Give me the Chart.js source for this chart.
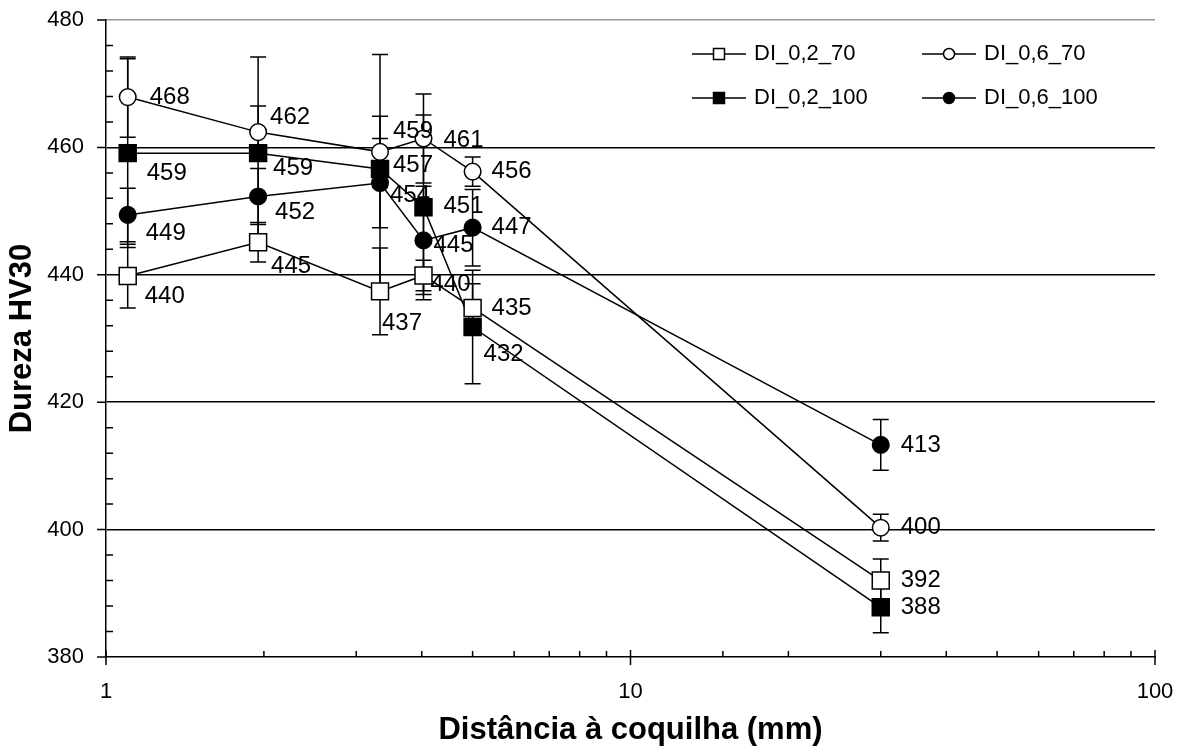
<!DOCTYPE html>
<html>
<head>
<meta charset="utf-8">
<script src="https://cdn.jsdelivr.net/npm/chart.js@4/dist/chart.umd.min.js"></script>
<style>
  body { margin: 0; background: #fff; }
  canvas { display: block; }
</style>
</head>
<body>
<canvas id="hardnessChart" width="1181" height="751"></canvas>
<script>
const FONT = "'Liberation Sans', Arial, sans-serif";

// distance from chill (mm)
const distances = [1.1, 1.95, 3.33, 4.03, 5.0, 30];
const xTickValues = [1, 10, 100];

const seriesNames = ['DI_0,2_70', 'DI_0,6_70', 'DI_0,2_100', 'DI_0,6_100'];

// hardness HV30 per series
const di02_70 = [439.8, 445.1, 437.4, 439.9, 434.8, 392.0];
const di06_70 = [467.9, 462.4, 459.3, 461.4, 456.2, 400.3];
const di02_100 = [459.1, 459.1, 456.6, 450.6, 431.8, 387.8];
const di06_100 = [449.4, 452.3, 454.4, 445.4, 447.4, 413.3];

// error bar half-widths
const err02_70 = [5.0, 3.1, 6.8, 2.4, 3.8, 3.4];
const err06_70 = [6.3, 4.1, 5.6, 7.0, 2.3, 2.1];
const err02_100 = [14.8, 15.1, 18.0, 14.5, 8.9, 4.0];
const err06_100 = [4.2, 4.4, 7.0, 8.5, 6.0, 4.0];

// where each value label sits relative to its point [dx, dy]
const labelPos02_70 = [[17, 20], [13, 24], [2, 32], [7, 9], [19, 0], [20, 0]];
const labelPos06_70 = [[22, 0], [12, -15], [13, -20], [20, 2], [19, 0], [20, 0]];
const labelPos02_100 = [[19, 20], [15, 15], [13, -4], [20, -1], [11, 27], [20, 0]];
const labelPos06_100 = [[18, 18], [17, 16], [10, 12], [10, 5], [19, 0], [20, 0]];

function makeSeries(label, values, errors, labelPos, pointStyle, filled) {
  return {
    label: label,
    data: distances.map((d, i) => ({ x: d, y: values[i] })),
    errors: errors,
    labelPos: labelPos,
    borderColor: '#000',
    borderWidth: 1.5,
    pointStyle: pointStyle,
    pointRadius: pointStyle === 'rect' ? 12 : 8.3,
    pointBorderWidth: 1.5,
    pointBorderColor: '#000',
    pointBackgroundColor: filled ? '#000' : '#fff',
    tension: 0,
    fill: false
  };
}

const datasets = [
  makeSeries(seriesNames[0], di02_70, err02_70, labelPos02_70, 'rect', false),
  makeSeries(seriesNames[1], di06_70, err06_70, labelPos06_70, 'circle', false),
  makeSeries(seriesNames[2], di02_100, err02_100, labelPos02_100, 'rect', true),
  makeSeries(seriesNames[3], di06_100, err06_100, labelPos06_100, 'circle', true)
];

const errorBars = {
  id: 'errorBars',
  beforeDatasetsDraw(chart) {
    const ctx = chart.ctx;
    const yScale = chart.scales.y;
    ctx.save();
    ctx.strokeStyle = '#000';
    ctx.lineWidth = 1.5;
    chart.data.datasets.forEach((ds, di) => {
      chart.getDatasetMeta(di).data.forEach((pt, i) => {
        const v = ds.data[i].y;
        const top = yScale.getPixelForValue(v + ds.errors[i]);
        const bot = yScale.getPixelForValue(v - ds.errors[i]);
        ctx.beginPath();
        ctx.moveTo(pt.x, top); ctx.lineTo(pt.x, bot);
        ctx.moveTo(pt.x - 8, top); ctx.lineTo(pt.x + 8, top);
        ctx.moveTo(pt.x - 8, bot); ctx.lineTo(pt.x + 8, bot);
        ctx.stroke();
      });
    });
    ctx.restore();
  }
};

const valueLabels = {
  id: 'valueLabels',
  afterDatasetsDraw(chart) {
    const ctx = chart.ctx;
    ctx.save();
    ctx.fillStyle = '#000';
    ctx.font = '24px ' + FONT;
    ctx.textAlign = 'left';
    ctx.textBaseline = 'middle';
    chart.data.datasets.forEach((ds, di) => {
      chart.getDatasetMeta(di).data.forEach((pt, i) => {
        const [dx, dy] = ds.labelPos[i];
        ctx.fillText(String(Math.round(ds.data[i].y)), pt.x + dx, pt.y + dy);
      });
    });
    ctx.restore();
  }
};

const axisTicks = {
  id: 'axisTicks',
  afterDraw(chart) {
    const ctx = chart.ctx;
    const { left, bottom } = chart.chartArea;
    const xs = chart.scales.x, ys = chart.scales.y;
    ctx.save();
    ctx.strokeStyle = '#000';
    ctx.lineWidth = 1.5;
    ctx.beginPath();
    xs.ticks.forEach(t => {
      const px = xs.getPixelForValue(t.value);
      if (xTickValues.includes(t.value)) {
        ctx.moveTo(px, bottom - 7); ctx.lineTo(px, bottom + 8);
      } else {
        ctx.moveTo(px, bottom); ctx.lineTo(px, bottom - 6);
      }
    });
    for (let v = ys.min; v <= ys.max; v += 4) {
      const py = ys.getPixelForValue(v);
      if (v % 20 === 0) {
        ctx.moveTo(left - 9, py); ctx.lineTo(left, py);
      } else {
        ctx.moveTo(left, py); ctx.lineTo(left + 7, py);
      }
    }
    ctx.stroke();

    // legend, two columns
    const colX = [692, 922];
    const rowY = [54, 98];
    ctx.font = '22px ' + FONT;
    ctx.textBaseline = 'middle';
    ctx.textAlign = 'left';
    chart.data.datasets.forEach((ds, i) => {
      const x0 = colX[i % 2];
      const y0 = rowY[Math.floor(i / 2)];
      ctx.beginPath();
      ctx.moveTo(x0, y0); ctx.lineTo(x0 + 54, y0);
      ctx.stroke();
      ctx.fillStyle = ds.pointBackgroundColor;
      ctx.beginPath();
      if (ds.pointStyle === 'rect') {
        ctx.rect(x0 + 27 - 5.5, y0 - 5.5, 11, 11);
      } else {
        ctx.arc(x0 + 27, y0, 5.5, 0, Math.PI * 2);
      }
      ctx.fill();
      ctx.stroke();
      ctx.fillStyle = '#000';
      ctx.fillText(ds.label, x0 + 62, y0);
    });
    ctx.restore();
  }
};

new Chart(document.getElementById('hardnessChart'), {
  type: 'line',
  data: { datasets: datasets },
  options: {
    responsive: false,
    animation: false,
    layout: { padding: { top: 20, right: 26, left: 0, bottom: 0 } },
    plugins: {
      legend: { display: false },
      tooltip: { enabled: false }
    },
    scales: {
      x: {
        type: 'logarithmic',
        min: 1,
        max: 100,
        afterFit: (scale) => {
          scale.height = 94;
          scale.paddingLeft = 0;
          scale.paddingRight = 0;
        },
        grid: { display: true, color: 'transparent', drawTicks: false },
        border: { display: true, color: '#000', width: 1.5 },
        ticks: {
          autoSkip: false,
          maxRotation: 0,
          padding: 22,
          color: '#000',
          font: { family: FONT, size: 22 },
          callback: (v) => xTickValues.includes(v) ? String(v) : ''
        },
        title: {
          display: true,
          text: 'Distância à coquilha (mm)',
          color: '#000',
          font: { family: FONT, size: 31, weight: 'bold' },
          padding: { top: 0, bottom: 2 }
        }
      },
      y: {
        min: 380,
        max: 480,
        afterFit: (scale) => {
          scale.width = 106;
          scale.paddingTop = 0;
          scale.paddingBottom = 0;
        },
        grid: {
          drawTicks: false,
          lineWidth: 1.5,
          color: (c) => c.tick.value === 480 ? '#9a9a9a' : (c.tick.value === 380 ? 'transparent' : '#000')
        },
        border: { display: true, color: '#000', width: 1.5 },
        ticks: {
          stepSize: 20,
          padding: 22,
          color: '#000',
          font: { family: FONT, size: 22 }
        },
        title: {
          display: true,
          text: 'Dureza HV30',
          color: '#000',
          font: { family: FONT, size: 31, weight: 'bold' },
          padding: { top: 4, bottom: 0 }
        }
      }
    }
  },
  plugins: [errorBars, valueLabels, axisTicks]
});
</script>
</body>
</html>
